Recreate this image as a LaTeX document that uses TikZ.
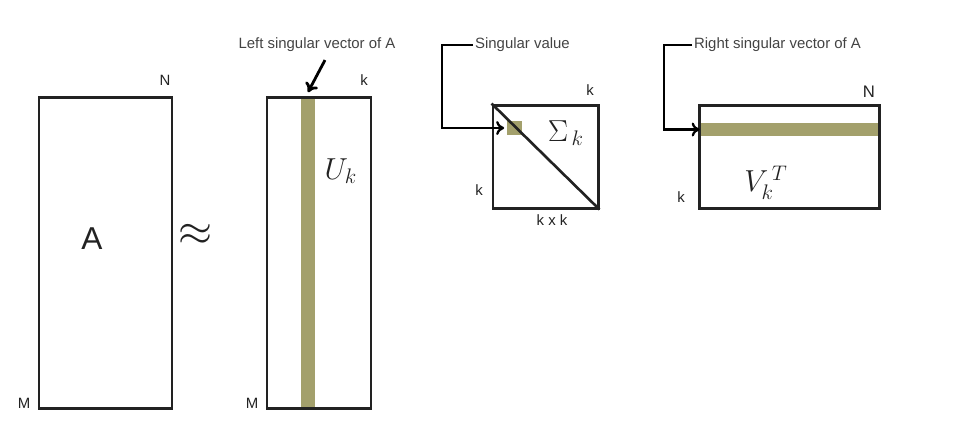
\documentclass[tikz,border=0pt]{standalone}
\usepackage{fontspec}
\setmainfont{Liberation Sans}
\usepackage{tikz}
\usetikzlibrary{positioning,arrows.meta,calc}
\definecolor{inkgrey}{HTML}{222222}
\definecolor{bandolive}{HTML}{A3A06C}
\tikzset{
  mx/.style={draw=inkgrey, line width=1.7pt, inner sep=0pt},
  mx band/.style={fill=bandolive, draw=none, inner sep=0pt},
  mx dim/.style={font=\fontsize{8.5}{9}\selectfont, text=inkgrey, inner sep=1pt},
  mx sym/.style={font=\fontsize{18}{20}\selectfont, text=inkgrey, inner sep=0pt},
  mx lab/.style={font=\fontsize{8.5}{10}\selectfont, text=inkgrey!85, inner sep=1pt},
  mx arr/.style={-{To[length=1.8mm, width=2.8mm]}, line width=1.6pt, black},
  mx brk/.style={-{To[length=1.6mm, width=2.8mm]}, line width=1.3pt, black},
}
\begin{document}
\begin{tikzpicture}[x=1cm, y=1cm]
  \useasboundingbox (0,0) rectangle (19.22,-8.56);
  % the four matrices
  \node[mx, minimum width=2.66cm, minimum height=6.22cm] (A) at (2.11,-5.05) {};
  \node[mx band, minimum width=0.28cm, minimum height=6.22cm] (ub) at (6.16,-5.05) {};
  \node[mx, minimum width=2.08cm, minimum height=6.22cm] (U) at (6.38,-5.05) {};
  \node[mx, minimum width=2.10cm, minimum height=2.06cm] (S) at (10.91,-3.13) {};
  \node[mx band, minimum width=0.30cm, minimum height=0.28cm] (sq) at (10.29,-2.56) {};
  \draw[line width=1.5pt, inkgrey] (S.north west) -- (S.south east);
  \node[mx band, minimum width=3.6cm, minimum height=0.26cm] (vb) at (15.78,-2.59) {};
  \node[mx, minimum width=3.6cm, minimum height=2.06cm] (V) at (15.78,-3.13) {};
  % symbols
  \node[mx sym, font=\fontsize{18}{20}\selectfont] (a) at (1.84,-4.78) {A};
  \node[mx sym, font=\fontsize{26}{28}\selectfont] (approx) at (3.92,-4.70) {$\approx$};
  \node[mx sym] (uk) at (6.82,-3.42) {$U_k$};
  \node[mx sym] (sk) at (11.32,-2.66) {$\Sigma_{\,k}$};
  \node[mx sym] (vk) at (15.32,-3.66) {$V_k^{\,T}$};
  % sizes
  \node[mx dim] (an) at (3.30,-1.60) {N};
  \node[mx dim] (am) at (0.48,-8.06) {M};
  \node[mx dim] (uk2) at (7.28,-1.60) {k};
  \node[mx dim] (um) at (5.04,-8.06) {M};
  \node[mx dim] (sk1) at (11.80,-1.80) {k};
  \node[mx dim] (sk2) at (9.58,-3.80) {k};
  \node[mx dim] (skk) at (11.04,-4.40) {k x k};
  \node[mx dim, font=\fontsize{9.5}{10}\selectfont] (vn) at (17.38,-1.84) {N};
  \node[mx dim] (vkk) at (13.62,-3.94) {k};
  % callouts
  \node[mx lab] (lsv) at (6.34,-0.90) {Left singular vector of A};
  \node[mx lab, anchor=west] (sv) at (9.46,-0.90) {Singular value};
  \node[mx lab, anchor=west] (rsv) at (13.84,-0.90) {Right singular vector of A};
  \draw[mx arr] ([xshift=1.6mm, yshift=-1.2mm]lsv.south) -- ([yshift=0.9mm]ub.north);
  \draw[mx brk] (sv.west) -- ++(-0.62,0) |- ([xshift=-0.5mm]sq.west);
  \draw[mx brk] (rsv.west) -- ++(-0.56,0) |- ([xshift=0.2mm]vb.west);
\end{tikzpicture}
\end{document}
